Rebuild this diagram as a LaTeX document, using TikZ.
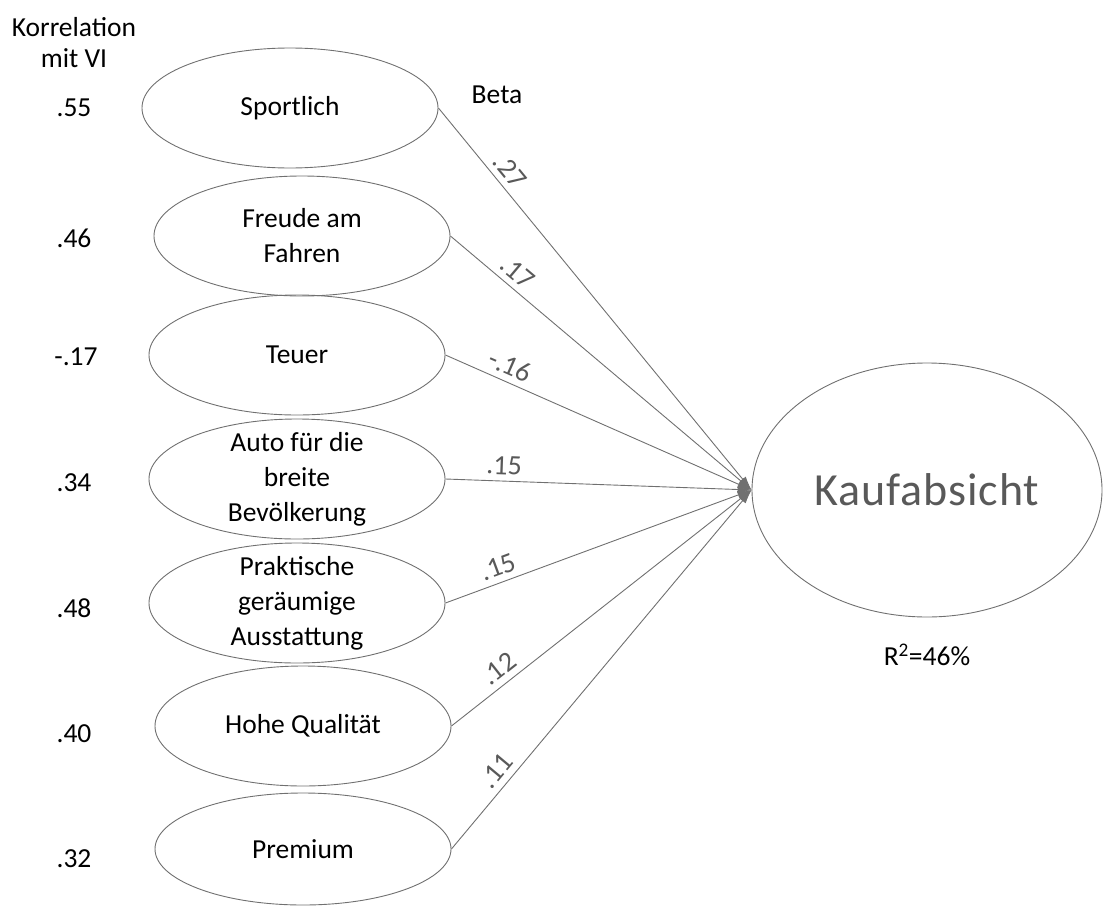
\documentclass[tikz,border=0pt]{standalone}
\usepackage{fontspec}
\setmainfont{Carlito}
\usetikzlibrary{shapes.geometric,arrows.meta}
\begin{document}
\begin{tikzpicture}[x=1pt,y=-1pt]
        % Define colors
        \definecolor{linegray}{RGB}{112,112,112}
        \definecolor{textgray}{RGB}{89,89,89}

        \tikzset{
            factor/.style={ellipse, draw=linegray, line width=0.9pt, minimum width=296pt, minimum height=120pt,
                inner xsep=0pt, inner ysep=-30pt, align=center, font=\fontsize{27.5}{35}\selectfont},
            corr/.style={font=\fontsize{27.5}{34}\selectfont, inner sep=0pt},
            beta/.style={font=\fontsize{28}{30}\selectfont, text=textgray, sloped, above=5pt, pos=0.19, inner sep=1pt},
            effect/.style={draw=linegray, line width=0.9pt, -{Latex[length=14pt,width=8pt]}}
        }

        % Page frame
        \useasboundingbox (0,0) rectangle (1103,905);

        % Column headers
        \node[corr] (korr) at (74,27) {Korrelation};
        \node[corr] (mitvi) at (74,58) {mit VI};
        \node[corr] (beta) at (497,95) {Beta};

        % Predictors
        \node[factor] (sportlich) at (290,108) {Sportlich};
        \node[factor] (freude) at (302,236) {Freude am\\Fahren};
        \node[factor] (teuer) at (297,355) {Teuer};
        \node[factor] (auto) at (297,479) {Auto für die\\breite\\Bevölkerung};
        \node[factor] (praktisch) at (297,603) {Praktische\\geräumige\\Ausstattung};
        \node[factor] (qualitaet) at (303,726) {Hohe Qualität};
        \node[factor, minimum height=112pt] (premium) at (303,849) {Premium};

        % Outcome
        \node[ellipse, draw=linegray, line width=0.9pt, minimum width=350pt, minimum height=254pt, inner sep=0pt,
            text=textgray, font=\fontsize{46}{50}\selectfont\addfontfeature{LetterSpace=2}] (kauf) at (927,490) {Kaufabsicht};
        \node[corr] (rsq) at (927,655) {R\textsuperscript{2}=46\%};

        % Correlations with VI
        \node[corr] (c1) at (74,108) {.55};
        \node[corr] (c2) at (74,238) {.46};
        \node[corr] (c3) at (76,357) {-.17};
        \node[corr] (c4) at (74,483) {.34};
        \node[corr] (c5) at (74,608) {.48};
        \node[corr] (c6) at (74,734) {.40};
        \node[corr] (c7) at (74,859) {.32};

        % Paths with beta weights
        \draw[effect] (sportlich.east) -- node[beta] {.27} (kauf.west);
        \draw[effect] (freude.east) -- node[beta] {.17} (kauf.west);
        \draw[effect] (teuer.east) -- node[beta] {-.16} (kauf.west);
        \draw[effect] (auto.east) -- node[beta] {.15} (kauf.west);
        \draw[effect] (praktisch.east) -- node[beta] {.15} (kauf.west);
        \draw[effect] (qualitaet.east) -- node[beta] {.12} (kauf.west);
        \draw[effect] (premium.east) -- node[beta] {.11} (kauf.west);
\end{tikzpicture}
\end{document}
